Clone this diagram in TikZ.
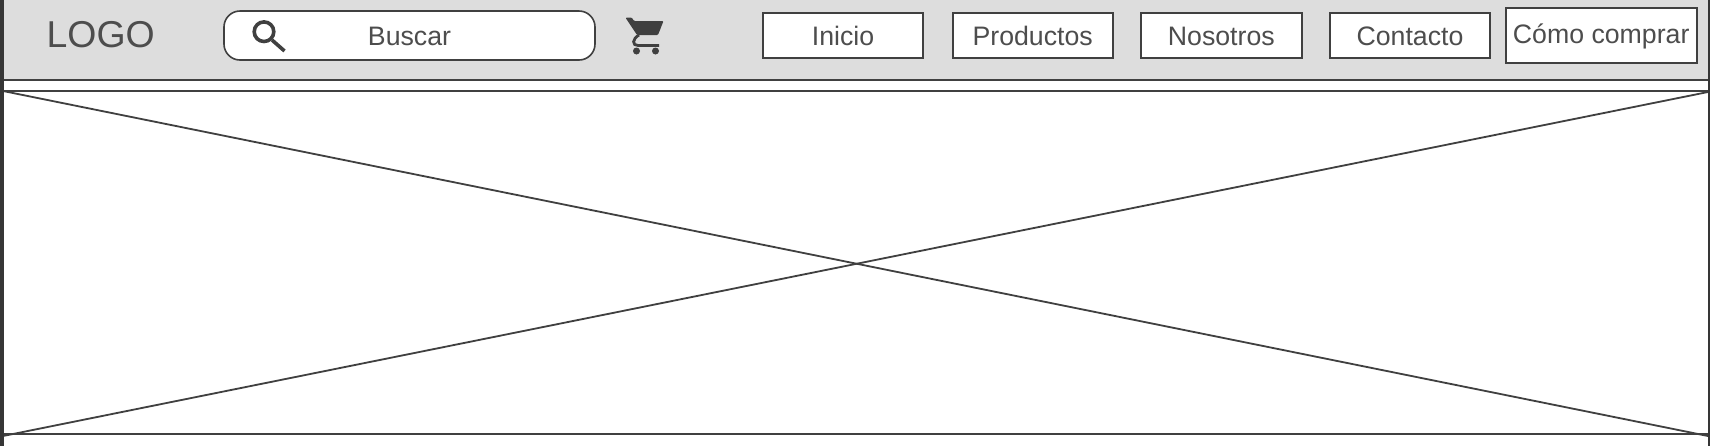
\documentclass[tikz,border=0pt]{standalone}
\usepackage{fontspec}
\setmainfont{Liberation Sans}
\definecolor{barra}{HTML}{DDDDDD}
\definecolor{linea}{HTML}{404040}
\definecolor{texto}{HTML}{4D4D4D}
\tikzset{
	boton/.style={draw=linea, fill=white, line width=1pt, text=texto, font=\fontsize{13.35}{16}\selectfont, inner sep=0pt, text height=9.6pt, text depth=0pt},
	raya/.style={draw=linea, line width=1pt},
	borde/.style={fill=linea!85!black}
}

\begin{document}
\begin{tikzpicture}[x=.5pt, y=-.5pt]
\useasboundingbox (0,0) rectangle (1710,446);
\fill[white] (0,0) rectangle (1710,446);
\fill[barra] (0,0) rectangle (1710,79);
\draw[raya] (0,79.5) -- (1710,79.5);
\draw[raya] (0,90.5) -- (1710,90.5);
\draw[raya] (0,434) -- (1710,434);
\draw[linea, line width=.9pt] (3,91) -- (1708,436);
\draw[linea, line width=.9pt] (3,436) -- (1708,92);
\fill[borde] (0,0) rectangle (4,446);
\fill[borde] (1707.5,0) rectangle (1710,446);

\node[text=texto, font=\fontsize{18.7}{20}\selectfont] (logo) at (100.7,35) {LOGO};
\node[boton, rounded corners=8pt, line width=.8pt, minimum width=185.5pt, minimum height=24.5pt] (buscar) at (409.5,35.5) {Buscar};

% lupa
\draw[linea, line width=1.8pt] (264,31.7) circle [radius=9.8];
\draw[linea, line width=1.8pt] (272,40) -- (284.5,51);

% carrito
\fill[linea, rounded corners=.5pt] (625.5,17.7) -- (632,17.7) -- (634,21) -- (663.5,21) -- (658,35) -- (637,35) -- cycle;
\draw[linea, line width=1.4pt] (639,35) .. controls (632,39) and (632,45.5) .. (638,45.5) -- (659,45.5);
\fill[linea] (636.5,51) circle [radius=3.5];
\fill[linea] (655.5,51) circle [radius=3.5];

\node[boton, minimum width=80.2pt, minimum height=22.6pt] (inicio) at (843,35.4) {Inicio};
\node[boton, minimum width=80.2pt, minimum height=22.6pt] (productos) at (1032.7,35.4) {Productos};
\node[boton, minimum width=80.2pt, minimum height=22.6pt] (nosotros) at (1221.3,35.4) {Nosotros};
\node[boton, minimum width=80.2pt, minimum height=22.6pt] (contacto) at (1410,35.4) {Contacto};
\node[boton, text depth=1.7pt, minimum width=95.5pt, minimum height=27.6pt] (comprar) at (1601.2,35.4) {Cómo comprar};
\end{tikzpicture}
\end{document}
